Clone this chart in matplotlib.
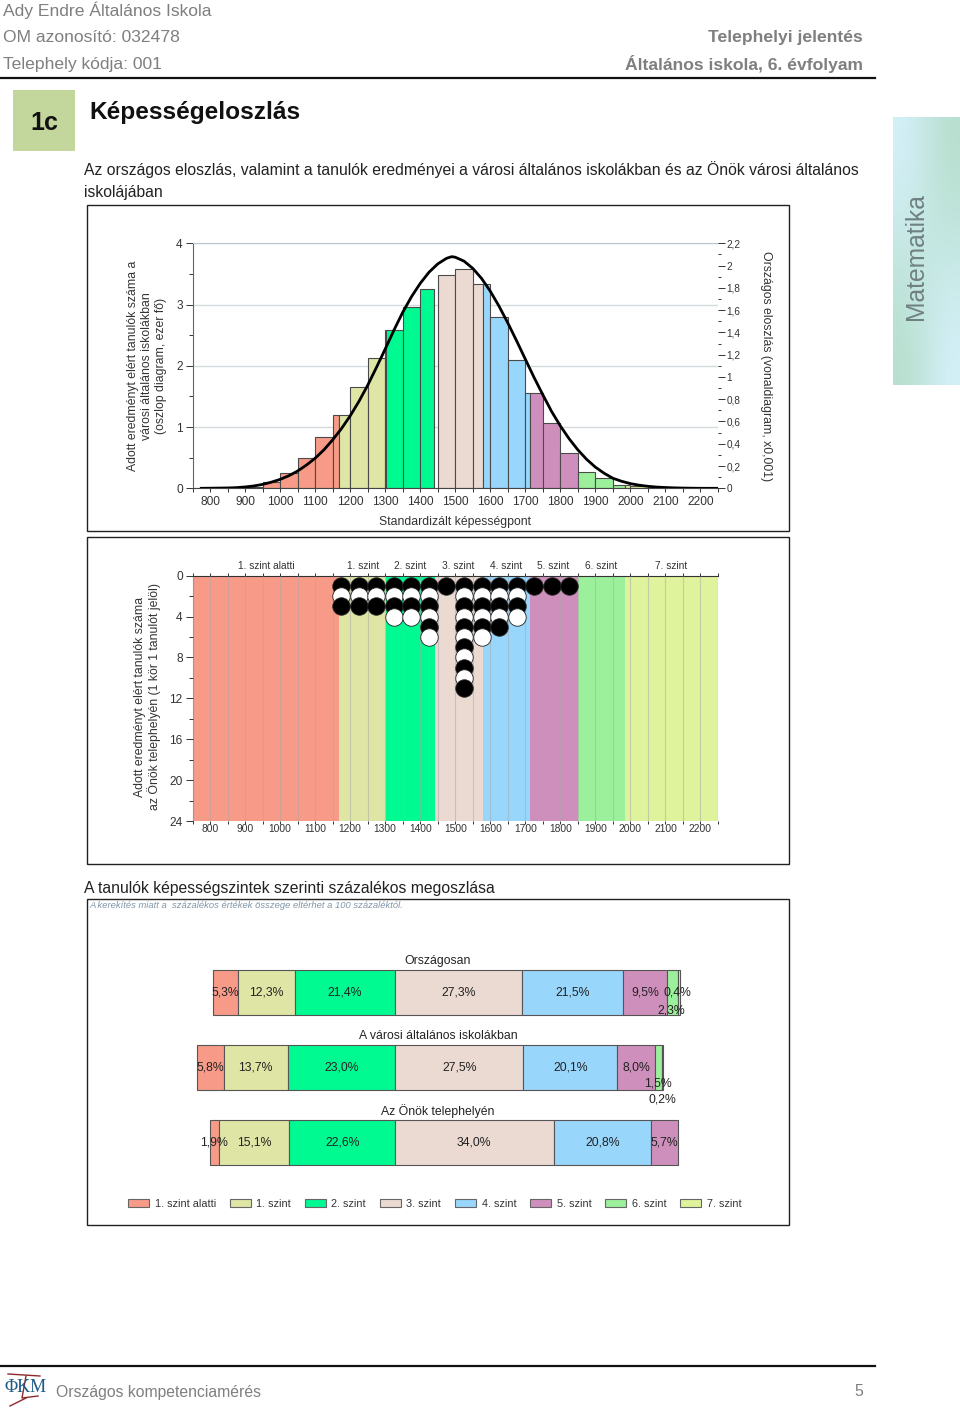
import numpy as np
from matplotlib import pyplot as plt
from matplotlib.patches import Patch, Rectangle
from matplotlib.ticker import FixedLocator, FuncFormatter

plt.rcParams["font.family"] = ["Liberation Sans", "DejaVu Sans"]

W, H = 960, 1409

level_names = ["1. szint alatti", "1. szint", "2. szint", "3. szint", "4. szint", "5. szint", "6. szint", "7. szint"]
level_colors = ["#F79B88", "#DFE5A5", "#00FA92", "#EBDAD2", "#99D6FC", "#CF8FBC", "#9CF09C", "#DFF29C"]
level_start = [750, 1169, 1303, 1441, 1578, 1714, 1850, 1985]
level_end = [1169, 1303, 1441, 1578, 1714, 1850, 1985, 2250]
level_label_x = [960, 1236, 1371, 1507, 1644, 1779, 1915, 2117]

# histogram, thousand students per 50 point bin
bin_left = [750, 800, 850, 900, 950, 1000, 1050, 1100, 1150, 1200, 1250, 1300, 1350, 1400, 1450,
            1500, 1550, 1600, 1650, 1700, 1750, 1800, 1850, 1900, 1950, 2000, 2050, 2100, 2150, 2200]
bin_height = [0.0, 0.005, 0.01, 0.02, 0.1, 0.25, 0.5, 0.83, 1.2, 1.65, 2.13, 2.58, 2.96, 3.25, 3.49,
              3.58, 3.34, 2.8, 2.1, 1.56, 1.07, 0.57, 0.27, 0.16, 0.06, 0.03, 0.01, 0.0, 0.0, 0.0]
# the green bars stop short of the next bin in the histogram
hist_start = [750, 1169, 1303, 1450, 1578, 1714, 1850, 1985]
hist_end = [1169, 1303, 1440, 1578, 1714, 1850, 1985, 2250]

curve_x = [775, 800, 825, 850, 875, 900, 925, 950, 975, 1000, 1025, 1050, 1075, 1100, 1125, 1150,
           1175, 1200, 1225, 1250, 1275, 1300, 1325, 1350, 1375, 1400, 1425, 1450, 1475, 1490, 1500,
           1525, 1550, 1575, 1600, 1625, 1650, 1675, 1700, 1725, 1750, 1775, 1800, 1825, 1850, 1875,
           1900, 1925, 1950, 1975, 2000, 2025, 2050, 2075, 2100, 2125, 2150, 2175, 2200, 2225, 2250]
curve_y = [0.0, 0.001, 0.002, 0.003, 0.006, 0.012, 0.021, 0.035, 0.055, 0.08, 0.113, 0.155, 0.208, 0.27, 0.345, 0.435,
           0.535, 0.65, 0.78, 0.925, 1.085, 1.25, 1.42, 1.58, 1.72, 1.84, 1.94, 2.015, 2.065, 2.08, 2.075,
           2.04, 1.975, 1.885, 1.77, 1.635, 1.485, 1.325, 1.16, 0.995, 0.84, 0.69, 0.56, 0.445, 0.345, 0.26,
           0.19, 0.135, 0.09, 0.063, 0.042, 0.028, 0.018, 0.011, 0.007, 0.004, 0.002, 0.001, 0.0, 0.0, 0.0]

# one circle per student, alternating black and white from the top
dot_x = [1175, 1225, 1275, 1325, 1375, 1425, 1475, 1525, 1575, 1625, 1675, 1725, 1775, 1825]
dot_n = [3, 3, 3, 4, 4, 6, 1, 11, 6, 5, 4, 1, 1, 1]

share_groups = ["Országosan", "A városi általános iskolákban", "Az Önök telephelyén"]
share_orszagos = [5.3, 12.3, 21.4, 27.3, 21.5, 9.5, 2.3, 0.4]
share_varosi = [5.8, 13.7, 23.0, 27.5, 20.1, 8.0, 1.5, 0.2]
share_onok = [1.9, 15.1, 22.6, 34.0, 20.8, 5.7, 0.0, 0.0]

TICK = "#333333"
GRAY = "#7f7f7f"


def add_ax(x0, y0, x1, y1):
    # pixel box on the page, y from the top
    return fig.add_axes([x0 / W, 1 - y1 / H, (x1 - x0) / W, (y1 - y0) / H])


def comma(v, pos=None):
    return f"{v:g}".replace(".", ",")


fig = plt.figure(figsize=(W / 100, H / 100), dpi=100)

page = add_ax(0, 0, W, H)
page.set_xlim(0, W)
page.set_ylim(H, 0)
page.axis("off")
page.set_zorder(10)

# header
page.text(3, 10, "Ady Endre Általános Iskola", color=GRAY, fontsize=12.6, va="center")
page.text(3, 37.5, "OM azonosító: 032478", color=GRAY, fontsize=12.6, va="center")
page.text(3, 64, "Telephely kódja: 001", color=GRAY, fontsize=12.6, va="center")
page.text(863, 37.5, "Telephelyi jelentés", color=GRAY, fontsize=12.6, va="center", ha="right", fontweight="bold")
page.text(863, 64, "Általános iskola, 6. évfolyam", color=GRAY, fontsize=12.6, va="center", ha="right", fontweight="bold")
page.plot([0, 875], [78, 78], color="#111111", lw=1.6)

page.add_patch(Rectangle((13, 90), 62, 61, color="#C3D69B", lw=0))
page.text(44, 122.5, "1c", fontsize=18, fontweight="bold", ha="center", va="center", color="#111111")
page.text(89, 112, "Képességeloszlás", fontsize=17.6, fontweight="bold", va="center", color="#111111")
page.text(84, 170, "Az országos eloszlás, valamint a tanulók eredményei a városi általános iskolákban és az Önök városi általános",
          fontsize=11.34, va="center", color="#222222")
page.text(84, 193, "iskolájában", fontsize=11.34, va="center", color="#222222")
page.text(84, 888, "A tanulók képességszintek szerinti százalékos megoszlása", fontsize=11.34, va="center", color="#222222")

for y0, y1 in [(205, 531), (537, 864), (899, 1225)]:
    page.add_patch(Rectangle((87, y0), 702, y1 - y0, fill=False, ec="#222222", lw=1.0))
page.text(89, 906, "A kerekítés miatt a  százalékos értékek összege eltérhet a 100 százaléktól.",
          fontsize=6.75, style="italic", va="center", color="#7F95A8")

# side tab
tab = add_ax(893, 117, 960, 385)
tab.imshow([[[213, 241, 250], [182, 222, 204]], [[182, 222, 204], [213, 241, 250]]],
           aspect="auto", interpolation="bicubic")
tab.axis("off")
page.text(916, 257, "Matematika", rotation=90, fontsize=17.7, color="#6F8080", ha="center", va="center")

# histogram with the national curve
ax1 = add_ax(192.5, 243.3, 718, 488.3)
ax1.set_xlim(750, 2250)
ax1.set_ylim(0, 4)
for lo, hi, col in zip(hist_start, hist_end, level_colors):
    for left, h in zip(bin_left, bin_height):
        a, b = max(left, lo), min(left + 50, hi)
        if b > a and h > 0:
            ax1.bar(a, h, width=b - a, align="edge", color=col, edgecolor="#4a4a4a", linewidth=0.8, zorder=2)
ax1.yaxis.grid(True, color="#D5DBDD", lw=1.0, zorder=0)
ax1.set_axisbelow(True)
ax1.set_yticks([0, 1, 2, 3, 4])
ax1.yaxis.set_minor_locator(FixedLocator([0.5, 1.5, 2.5, 3.5]))
ax1.set_xticks(np.arange(800, 2201, 100))
ax1.xaxis.set_minor_locator(FixedLocator(np.arange(750, 2251, 100)))
ax1.tick_params(labelsize=8.6, colors=TICK, length=5, width=0.7, pad=2)
ax1.tick_params(which="minor", length=3, width=0.7, color=TICK)
ax1.tick_params(axis="x", which="both", pad=2.5, length=3)
ax1.spines["right"].set_visible(False)
ax1.spines["top"].set_color("#B8C6CC")
ax1.spines["left"].set_color("#666666")
ax1.spines["bottom"].set_color("#444444")

ax1r = ax1.twinx()
ax1r.set_ylim(0, 2.2)
ax1r.plot(curve_x, curve_y, color="black", lw=2.0, zorder=5)
ax1r.set_yticks(np.arange(0, 2.21, 0.2))
ax1r.yaxis.set_major_formatter(FuncFormatter(lambda v, p: comma(round(v, 1))))
ax1r.yaxis.set_minor_locator(FixedLocator(np.arange(0.1, 2.2, 0.2)))
ax1r.tick_params(labelsize=7.2, colors=TICK, length=5, width=0.7, pad=1)
ax1r.tick_params(which="minor", length=2, width=0.7, color=TICK)
for s in ["right", "left", "top", "bottom"]:
    ax1r.spines[s].set_visible(False)

page.text(147, 366, "Adott eredményt elért tanulók száma a\nvárosi általános iskolákban\n(oszlop diagram, ezer fő)",
          rotation=90, fontsize=8.8, color=TICK, ha="center", va="center", multialignment="center", linespacing=1.22)
page.text(766, 366, "Országos eloszlás (vonaldiagram, x0,001)", rotation=270, fontsize=8.8, color=TICK, ha="center", va="center")
page.text(455, 522, "Standardizált képességpont", fontsize=8.8, color=TICK, ha="center", va="center")

# circles per student
ax2 = add_ax(192.5, 575.6, 718, 821)
ax2.set_xlim(750, 2250)
ax2.set_ylim(24, 0)
for lo, hi, col, name, lx in zip(level_start, level_end, level_colors, level_names, level_label_x):
    ax2.axvspan(lo, hi, color=col, lw=0, zorder=0)
    ax2.text(lx, -0.95, name, fontsize=7.3, color=TICK, ha="center", va="center")
ax2.set_xticks(np.arange(800, 2201, 100))
ax2.xaxis.set_minor_locator(FixedLocator(np.arange(750, 2251, 100)))
ax2.xaxis.grid(True, which="both", color="#A8A8A8", lw=0.8, alpha=0.5, zorder=1)
ax2.set_axisbelow(False)
ax2.set_yticks(np.arange(0, 25, 4))
ax2.yaxis.set_minor_locator(FixedLocator(np.arange(2, 24, 4)))
ax2.tick_params(axis="y", labelsize=8.6, colors=TICK, length=5, width=0.7, pad=2)
ax2.tick_params(axis="y", which="minor", length=3, width=0.7, color=TICK)
ax2.tick_params(axis="x", which="both", top=True, labelsize=7.4, colors=TICK, length=2, width=0.7, pad=0)
ax2.spines["top"].set_color("#333333")
ax2.spines["right"].set_visible(False)
ax2.spines["left"].set_color("#888888")
ax2.spines["bottom"].set_visible(False)
for x, n in zip(dot_x, dot_n):
    for k in range(1, n + 1):
        col = "black" if k % 2 == 1 else "white"
        ax2.scatter([x], [k], s=158, color=col, edgecolor="#222222", linewidth=0.6, zorder=5 + k, clip_on=False)

page.text(147.5, 697, "Adott eredményt elért tanulók száma\naz Önök telephelyén (1 kör 1 tanulót jelöl)",
          rotation=90, fontsize=8.8, color=TICK, ha="center", va="center", multialignment="center", linespacing=1.05)

# shares, aligned on the start of level 3
ax3 = add_ax(190, 945, 700, 1175)
ax3.set_xlim((190 - 395) / 4.67, (700 - 395) / 4.67)
ax3.set_ylim(2.44, -0.64)
ax3.axis("off")
label_dy = {(0, 6): 0.24, (1, 6): 0.21, (1, 7): 0.43}
label_dx = {(0, 7): -0.3, (0, 6): -0.2}
for row, vals in enumerate([share_orszagos, share_varosi, share_onok]):
    left = -sum(vals[:3])
    for j, v in enumerate(vals):
        if v == 0:
            continue
        ax3.barh(row, v, left=left, height=0.6, color=level_colors[j], edgecolor="#555555", linewidth=0.8)
        ax3.text(left + v / 2 + label_dx.get((row, j), 0), row + label_dy.get((row, j), 0),
                 f"{v:.1f}%".replace(".", ","), fontsize=8.8, color="#222222", ha="center", va="center")
        left += v
    # group titles sit at the centre of the box, not of the bar
    ax3.text(9.2, row - 0.42, share_groups[row], fontsize=8.8, color="#222222", ha="center", va="center")

handles = [Patch(facecolor=c, edgecolor="#666666", linewidth=0.8) for c in level_colors]
page.legend(handles, level_names, ncol=8, frameon=False, loc="center left", bbox_to_anchor=(128, 1204),
            bbox_transform=page.transData, fontsize=7.8, borderpad=0, borderaxespad=0,
            handlelength=1.95, handleheight=0.8, handletextpad=0.5, columnspacing=1.28, labelcolor="#333333")

# footer
page.plot([0, 875], [1366, 1366], color="#111111", lw=1.6)
page.text(56, 1392, "Országos kompetenciamérés", color=GRAY, fontsize=11.3, va="center")
page.text(859, 1392, "5", color=GRAY, fontsize=11.3, va="center", ha="center")
page.text(26, 1387, "ΦKM", family=["Liberation Serif", "DejaVu Serif"], color="#1C5C86", fontsize=13, ha="center", va="center")
page.plot([8, 40], [1374, 1376], color="#8E2A2A", lw=1.0)
page.plot([26, 22, 38], [1376, 1398, 1396], color="#8E2A2A", lw=1.0)
page.plot([10, 26], [1406, 1398], color="#8E2A2A", lw=1.0)

fig.savefig("out.png", dpi=100)
